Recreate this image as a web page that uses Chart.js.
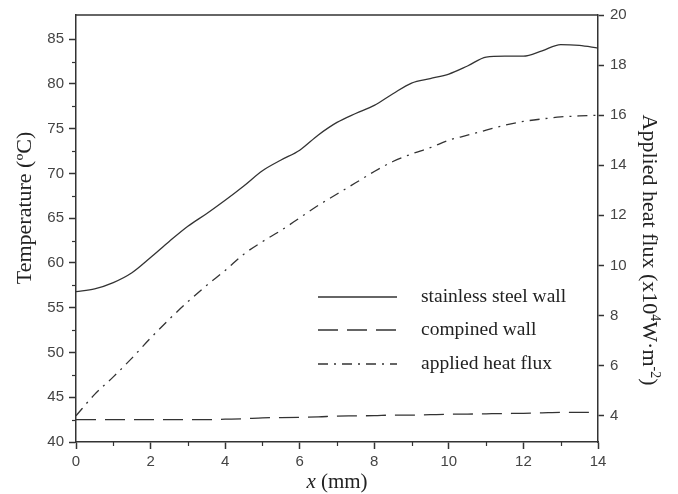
<!DOCTYPE html>
<html><head><meta charset="utf-8">
<script src="https://cdn.jsdelivr.net/npm/chart.js@4/dist/chart.umd.min.js"></script>
<style>html,body{margin:0;padding:0;background:#fff;}#wrap{width:678px;height:494px;position:relative}</style>
</head><body><div id="wrap"><canvas id="c" width="678" height="494"></canvas></div>
<script>
const xValues = [0,0.5,1,1.5,2,2.5,3,3.5,4,4.5,5,5.5,6,6.5,7,7.5,8,8.5,9,9.5,10,10.5,11,11.5,12,12.5,13,13.5,14];
const stainlessWall = [56.8,57.1,57.8,58.9,60.6,62.4,64.1,65.5,67.0,68.6,70.3,71.5,72.6,74.3,75.7,76.7,77.6,78.9,80.1,80.6,81.1,82.0,83.0,83.1,83.1,83.7,84.4,84.3,84.0];
const combinedWall = [42.5,42.5,42.5,42.5,42.5,42.5,42.5,42.5,42.55,42.6,42.7,42.72,42.75,42.8,42.9,42.92,42.95,43.0,43.0,43.05,43.1,43.12,43.15,43.18,43.2,43.25,43.3,43.3,43.3];
const heatFlux = [4.0,4.85,5.55,6.3,7.1,7.85,8.55,9.2,9.8,10.45,10.95,11.4,11.9,12.4,12.85,13.3,13.75,14.15,14.45,14.7,15.0,15.2,15.4,15.6,15.75,15.85,15.93,15.97,16.0];
const xTicks = [0,2,4,6,8,10,12,14];
const xMinorTicks = [1,3,5,7,9,11,13];
const leftTicks = [40,45,50,55,60,65,70,75,80,85];
const leftMinorTicks = [42.5,47.5,52.5,57.5,62.5,67.5,72.5,77.5,82.5];
const rightTicks = [4,6,8,10,12,14,16,18,20];
const seriesLabels = ['stainless steel wall','compined wall','applied heat flux'];
const leftTitle = 'Temperature (ºC)';
const rightTitleParts = [['Applied heat flux (x10',0],['4',1],['W·m',0],['-2',1],[')',0]];
const xTitleParts = [['x',1],[' (mm)',0]];

const INK = '#333';
const tickFont = {family:'"Liberation Sans", Arial, sans-serif', size:15};
const serif = '"Liberation Serif", "Times New Roman", serif';

const pts = arr => xValues.map((x,i)=>({x:x,y:arr[i]}));

const decor = {
  id:'decor',
  afterDraw(chart){
    const ctx = chart.ctx, ca = chart.chartArea;
    ctx.save();
    ctx.strokeStyle = INK; ctx.lineWidth = 1.5;
    ctx.beginPath(); ctx.moveTo(ca.left, ca.top); ctx.lineTo(ca.right, ca.top); ctx.stroke();
    const sx = chart.scales.x, sy = chart.scales.y;
    ctx.lineWidth = 1.2;
    xMinorTicks.forEach(v=>{const p=Math.round(sx.getPixelForValue(v))+0.5; ctx.beginPath(); ctx.moveTo(p, ca.bottom); ctx.lineTo(p, ca.bottom+4); ctx.stroke();});
    leftMinorTicks.forEach(v=>{const p=Math.round(sy.getPixelForValue(v))+0.5; ctx.beginPath(); ctx.moveTo(ca.left, p); ctx.lineTo(ca.left-4, p); ctx.stroke();});
    const ds = chart.data.datasets;
    const rowsY = [297, 330, 364];
    ds.forEach((d,i)=>{
      ctx.save();
      ctx.strokeStyle = d.borderColor; ctx.lineWidth = 1.3;
      ctx.setLineDash(d.borderDash || []);
      ctx.beginPath(); ctx.moveTo(318, rowsY[i]); ctx.lineTo(397, rowsY[i]); ctx.stroke();
      ctx.restore();
      ctx.fillStyle = '#222'; ctx.font = '19.5px '+serif; ctx.textBaseline='middle'; ctx.textAlign='left';
      ctx.fillText(d.label, 421, rowsY[i]);
    });
    ctx.fillStyle = '#222';
    ctx.save();
    ctx.translate(25, 208); ctx.rotate(-Math.PI/2);
    ctx.font = '22px '+serif; ctx.textAlign='center'; ctx.textBaseline='middle';
    ctx.fillText(leftTitle, 0, 0);
    ctx.restore();
    ctx.save();
    ctx.translate(650, 250); ctx.rotate(Math.PI/2);
    ctx.textBaseline='alphabetic'; ctx.textAlign='left';
    const big='22px '+serif, small='14px '+serif;
    let w=0; rightTitleParts.forEach(([t,s])=>{ctx.font = s?small:big; w+=ctx.measureText(t).width;});
    let xx=-w/2;
    rightTitleParts.forEach(([t,s])=>{ctx.font = s?small:big; ctx.fillText(t, xx, s? -1 : 7); xx+=ctx.measureText(t).width;});
    ctx.restore();
    ctx.save();
    ctx.textBaseline='alphabetic'; ctx.textAlign='left';
    const fx=['italic 21px '+serif, '21px '+serif];
    let wx=0; xTitleParts.forEach(([t,it])=>{ctx.font = it?fx[0]:fx[1]; wx+=ctx.measureText(t).width;});
    let px = 337 - wx/2;
    xTitleParts.forEach(([t,it])=>{ctx.font = it?fx[0]:fx[1]; ctx.fillText(t, px, 488); px+=ctx.measureText(t).width;});
    ctx.restore();
    ctx.restore();
  }
};

new Chart(document.getElementById('c'), {
  type:'line',
  data:{datasets:[
    {label:seriesLabels[0], data:pts(stainlessWall), yAxisID:'y', borderColor:'#333', borderWidth:1.3, pointRadius:0, cubicInterpolationMode:'monotone', fill:false},
    {label:seriesLabels[1], data:pts(combinedWall), yAxisID:'y', borderColor:'#333', borderWidth:1.3, borderDash:[20,9], pointRadius:0, cubicInterpolationMode:'monotone', fill:false},
    {label:seriesLabels[2], data:pts(heatFlux), yAxisID:'y1', borderColor:'#333', borderWidth:1.3, borderDash:[10,6,2,6], pointRadius:0, cubicInterpolationMode:'monotone', fill:false}
  ]},
  options:{
    responsive:false, animation:false, devicePixelRatio:1,
    layout:{padding:{top:15,left:0,right:0,bottom:0}},
    plugins:{legend:{display:false}, tooltip:{enabled:false}},
    scales:{
      x:{type:'linear', min:0, max:14,
        afterBuildTicks:s=>{s.ticks = xTicks.map(v=>({value:v}));},
        afterFit:s=>{s.height=52;},
        grid:{drawOnChartArea:false, tickLength:7, color:INK, tickWidth:1.5},
        border:{color:INK, width:1.5},
        ticks:{font:tickFont, color:'#444', padding:4, maxRotation:0}},
      y:{type:'linear', position:'left', min:40, max:87.7,
        afterBuildTicks:s=>{s.ticks = leftTicks.map(v=>({value:v}));},
        afterFit:s=>{s.width=76;},
        grid:{drawOnChartArea:false, tickLength:7, color:INK, tickWidth:1.5},
        border:{color:INK, width:1.5},
        ticks:{font:tickFont, color:'#444', padding:5}},
      y1:{type:'linear', position:'right', min:2.95, max:20,
        afterBuildTicks:s=>{s.ticks = rightTicks.map(v=>({value:v}));},
        afterFit:s=>{s.width=80;},
        grid:{drawOnChartArea:false, tickLength:6, color:INK, tickWidth:1.5},
        border:{color:INK, width:1.5},
        ticks:{font:tickFont, color:'#444', padding:6}}
    }
  },
  plugins:[decor]
});
</script></body></html>
